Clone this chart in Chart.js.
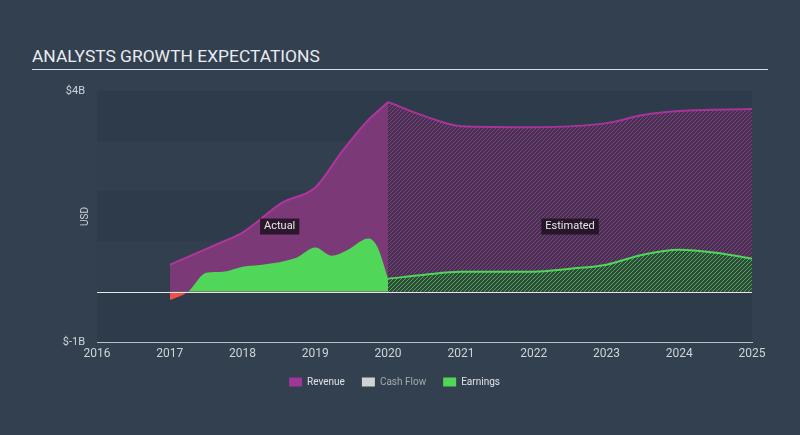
<!DOCTYPE html>
<html>
<head>
<meta charset="utf-8">
<script src="https://cdn.jsdelivr.net/npm/chart.js@4.4.1/dist/chart.umd.min.js"></script>
<style>
  html, body { margin: 0; padding: 0; background: #334050; }
  #wrap { position: relative; width: 800px; height: 435px; }
  #title {
    position: absolute; left: 32px; top: 46px; width: 736px;
    font-family: Roboto, sans-serif; font-size: 17.4px; color: #e9ecef;
    border-bottom: 1px solid #d8dde2; padding-bottom: 3px;
  }
  canvas { position: absolute; left: 0; top: 0; }
</style>
</head>
<body>
<div id="wrap">
  <div id="title">ANALYSTS GROWTH EXPECTATIONS</div>
  <canvas id="chart" width="800" height="435"></canvas>
</div>
<script>
// values in $B, x in years
const revenueActualX = [2017.0, 2017.73, 2018.0, 2018.55, 2019.0, 2019.37, 2019.7, 2020.0];
const revenueActual = [0.54, 1.0, 1.18, 1.78, 2.08, 2.8, 3.38, 3.78];
const revenueEstX = [2020.0, 2020.5, 2021.0, 2022.0, 2023.0, 2023.5, 2024.0, 2025.0];
const revenueEst = [3.78, 3.5, 3.3, 3.28, 3.36, 3.52, 3.6, 3.64];

const earningsActualX = [2017.0, 2017.25, 2017.5, 2017.73, 2018.0, 2018.27, 2018.74, 2019.0, 2019.22, 2019.45, 2019.73, 2019.85, 2020.0];
const earningsActual = [-0.17, 0.0, 0.38, 0.4, 0.5, 0.54, 0.68, 0.88, 0.72, 0.84, 1.06, 0.9, 0.26];
const earningsEstX = [2020.0, 2020.5, 2021.0, 2022.0, 2022.5, 2023.0, 2023.5, 2024.0, 2024.5, 2025.0];
const earningsEst = [0.26, 0.34, 0.4, 0.4, 0.46, 0.54, 0.74, 0.84, 0.78, 0.66];

const yearTicks = [2016, 2017, 2018, 2019, 2020, 2021, 2022, 2023, 2024, 2025];
const yTicks = [-1, 4];

function toPoints(xs, ys) {
    return xs.map((x, i) => ({ x: x, y: ys[i] }));
}

function makeHatch(base, line) {
    const c = document.createElement("canvas");
    c.width = 4;
    c.height = 4;
    const g = c.getContext("2d");
    g.fillStyle = base;
    g.fillRect(0, 0, 4, 4);
    g.strokeStyle = line;
    g.lineWidth = 1;
    g.beginPath();
    g.moveTo(-1, 5); g.lineTo(5, -1);
    g.moveTo(-1, 1); g.lineTo(1, -1);
    g.moveTo(3, 5); g.lineTo(5, 3);
    g.stroke();
    return g.createPattern(c, "repeat");
}

const ctx = document.getElementById("chart").getContext("2d");
const revenueHatch = makeHatch("#443350", "#8c3c84");
const earningsHatch = makeHatch("#2f4a3d", "#4aae50");

// alternating bands behind the plot, zero line, axis title and the Actual/Estimated tags
const bandsPlugin = {
    id: "bands",
    beforeDraw(chart) {
        const { ctx, chartArea, scales } = chart;
        ctx.save();
        for (let v = 4; v > -1; v--) {
            const top = scales.y.getPixelForValue(v);
            const bottom = scales.y.getPixelForValue(v - 1);
            ctx.fillStyle = (v % 2 === 0) ? "#2e3b4a" : "#313f4f";
            ctx.fillRect(chartArea.left, top, chartArea.right - chartArea.left, bottom - top);
        }
        ctx.restore();
    },
    afterDatasetsDraw(chart) {
        const { ctx, chartArea, scales } = chart;
        const y0 = scales.y.getPixelForValue(0);
        ctx.save();
        ctx.strokeStyle = "#e6e6e6";
        ctx.lineWidth = 1;
        ctx.beginPath();
        ctx.moveTo(chartArea.left, Math.round(y0) + 0.5);
        ctx.lineTo(chartArea.right, Math.round(y0) + 0.5);
        ctx.stroke();

        ctx.font = "11px Roboto, sans-serif";
        ctx.textBaseline = "middle";
        ctx.textAlign = "center";
        [["Actual", 2018.51], ["Estimated", 2022.5]].forEach(([txt, xv]) => {
            const px = scales.x.getPixelForValue(xv);
            const py = scales.y.getPixelForValue(1.3);
            const w = ctx.measureText(txt).width + 8;
            ctx.fillStyle = "rgba(30,18,32,0.85)";
            ctx.fillRect(px - w / 2, py - 8, w, 16);
            ctx.fillStyle = "#e8e8e8";
            ctx.fillText(txt, px, py);
        });

        ctx.translate(chartArea.left - 12, (chartArea.top + chartArea.bottom) / 2);
        ctx.rotate(-Math.PI / 2);
        ctx.fillStyle = "#cfd4d9";
        ctx.font = "10px Roboto, sans-serif";
        ctx.fillText("USD", 0, 0);
        ctx.restore();
    }
};

new Chart(ctx, {
    type: "line",
    data: {
        datasets: [
            {
                label: "Earnings",
                data: toPoints(earningsActualX, earningsActual),
                borderColor: "rgba(0,0,0,0)",
                borderWidth: 0,
                fill: { target: "origin", above: "#50d658", below: "#f0504a" },
                cubicInterpolationMode: "monotone",
                pointRadius: 0,
                order: 1
            },
            {
                label: "Earnings est",
                data: toPoints(earningsEstX, earningsEst),
                borderColor: "#4fd65a",
                borderWidth: 2,
                backgroundColor: earningsHatch,
                fill: "origin",
                cubicInterpolationMode: "monotone",
                pointRadius: 0,
                order: 2
            },
            {
                label: "Revenue",
                data: toPoints(revenueActualX, revenueActual),
                borderColor: "#b0359f",
                borderWidth: 2,
                backgroundColor: "#7b3a77",
                fill: "origin",
                cubicInterpolationMode: "monotone",
                pointRadius: 0,
                order: 3
            },
            {
                label: "Revenue est",
                data: toPoints(revenueEstX, revenueEst),
                borderColor: "#a8349a",
                borderWidth: 2,
                backgroundColor: revenueHatch,
                fill: "origin",
                cubicInterpolationMode: "monotone",
                pointRadius: 0,
                order: 4
            }
        ]
    },
    options: {
        responsive: false,
        animation: false,
        layout: { padding: { left: 37, right: 48, top: 91, bottom: 38 } },
        scales: {
            x: {
                type: "linear",
                min: 2016,
                max: 2025,
                afterBuildTicks: (scale) => { scale.ticks = yearTicks.map(v => ({ value: v })); },
                afterFit: (scale) => { scale.height = 18; },
                grid: { display: false, drawTicks: true, tickLength: 5, tickColor: "#b8c0c8" },
                border: { display: true, color: "#b8c0c8", width: 1 },
                ticks: {
                    color: "#cfd4d9",
                    font: { family: "Roboto, sans-serif", size: 12 },
                    padding: 0,
                    maxRotation: 0,
                    callback: (v) => String(v)
                }
            },
            y: {
                min: -1,
                max: 4,
                afterBuildTicks: (scale) => { scale.ticks = yTicks.map(v => ({ value: v })); },
                afterFit: (scale) => { scale.width = 60; },
                grid: { display: false },
                border: { display: false },
                ticks: {
                    color: "#cfd4d9",
                    font: { family: "Roboto, sans-serif", size: 11 },
                    padding: 4,
                    callback: (v) => "$" + v + "B"
                }
            }
        },
        plugins: {
            tooltip: { enabled: false },
            legend: {
                position: "bottom",
                labels: {
                    boxWidth: 13,
                    boxHeight: 9,
                    padding: 17,
                    font: { family: "Roboto, sans-serif", size: 10 },
                    generateLabels: () => [
                        { text: "Revenue", fillStyle: "#a0359a", strokeStyle: "#a0359a", lineWidth: 0, fontColor: "#e2e4e6" },
                        { text: "Cash Flow", fillStyle: "#d2d2d2", strokeStyle: "#d2d2d2", lineWidth: 0, fontColor: "#a4aab0" },
                        { text: "Earnings", fillStyle: "#52d65a", strokeStyle: "#52d65a", lineWidth: 0, fontColor: "#e2e4e6" }
                    ]
                }
            }
        }
    },
    plugins: [bandsPlugin]
});
</script>
</body>
</html>
